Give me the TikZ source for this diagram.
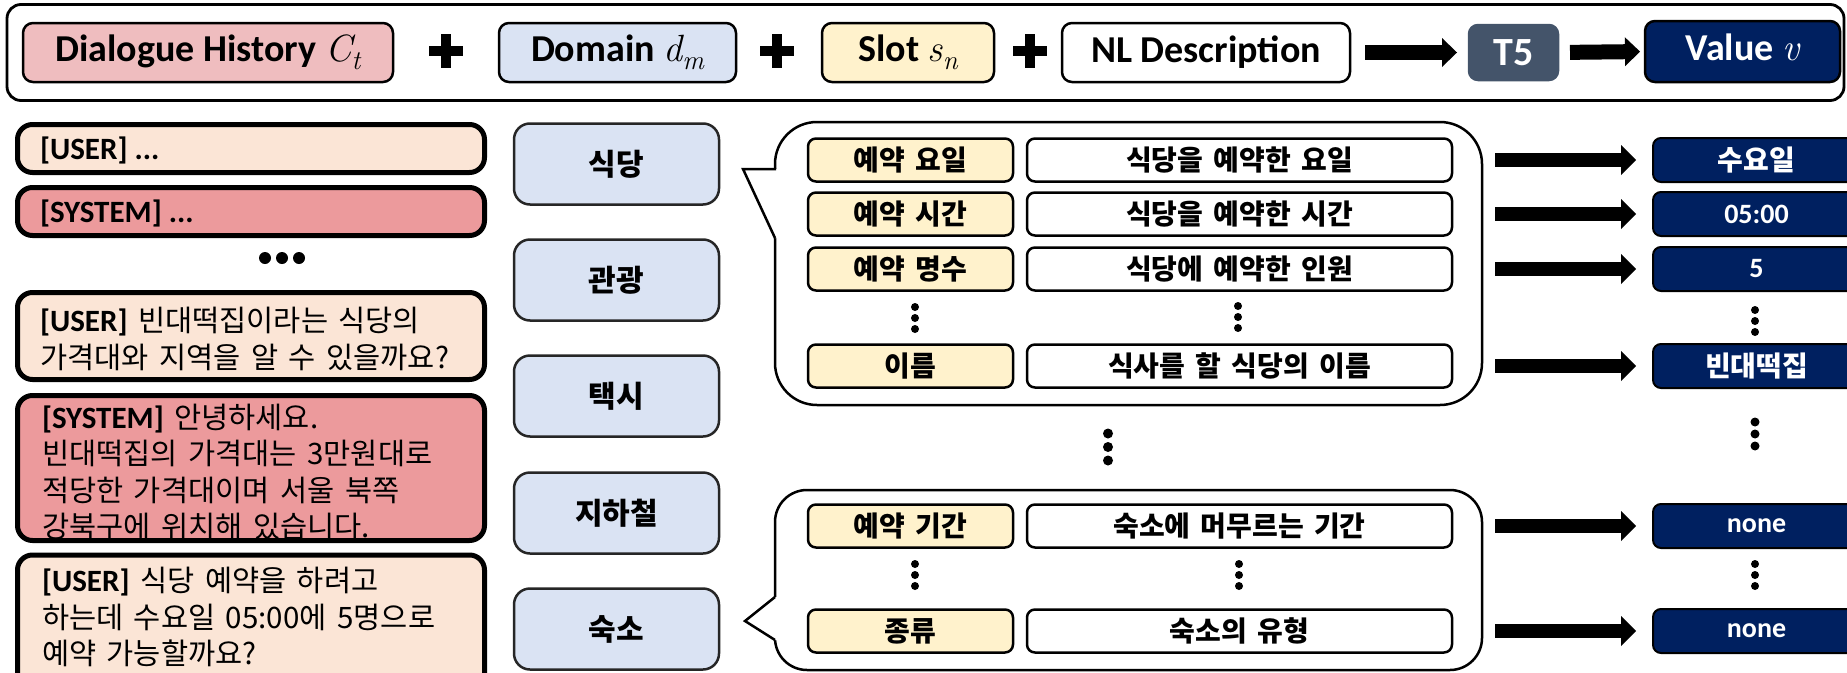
\documentclass[tikz,border=0pt]{standalone}
\usepackage{fontspec}
\setmainfont{Carlito}
\newfontfamily\kr{Noto Sans CJK KR}
\newfontfamily\krw[WordSpace=1.6]{Noto Sans CJK KR}
\newfontfamily\mifont{Latin Modern Roman}
\usetikzlibrary{arrows.meta}
\definecolor{dhpink}{HTML}{EFBDBF}
\definecolor{domblue}{HTML}{DAE3F3}
\definecolor{slotyel}{HTML}{FFF2CC}
\definecolor{tfive}{HTML}{44546A}
\definecolor{navyv}{HTML}{002060}
\definecolor{userc}{HTML}{FBE5D6}
\definecolor{sysc}{HTML}{EC9A9C}
\newcommand\tagb[1]{{\rmfamily\bfseries\fontsize{31}{36}\selectfont #1}}
\newcommand\mvar[2]{{\mifont\mdseries\itshape #1\raisebox{-0.22em}{\fontsize{27}{27}\selectfont #2}}}
\newcommand\plussign[2]{\fill (#1-17,#2-5) rectangle (#1+17,#2+5); \fill (#1-5,#2-17) rectangle (#1+5,#2+17);}
\newcommand\vdotsmark[4]{\fill (#1,#2-#3) circle (#4pt); \fill (#1,#2) circle (#4pt); \fill (#1,#2+#3) circle (#4pt);}
\begin{document}
\begin{tikzpicture}[x=1pt,y=-1pt,
  every node/.style={inner sep=0pt, outer sep=0pt},
  topbox/.style={draw=black, line width=2.5pt, rounded corners=10pt, minimum height=59pt,
     font=\rmfamily\bfseries\fontsize{38}{40}\selectfont},
  lbox/.style={draw=black, line width=5pt, rounded corners=15pt, minimum width=467pt},
  ltext/.style={anchor=west, align=left, font=\krw\fontsize{29.5}{36.5}\selectfont},
  dbox/.style={draw=black!85, line width=2.5pt, fill=domblue, rounded corners=16pt,
     minimum width=205pt, minimum height=81pt, font=\kr\bfseries\fontsize{30}{34}\selectfont},
  bubble/.style={draw=black, line width=2.5pt, fill=white, rounded corners=42pt},
  sbox/.style={draw=black, line width=2.5pt, fill=slotyel, rounded corners=8pt,
     minimum width=205pt, minimum height=43pt, font=\kr\bfseries\fontsize{28}{30}\selectfont},
  descbox/.style={sbox, fill=white, minimum width=425pt},
  vbox/.style={draw=black, line width=2pt, fill=navyv, text=white, rounded corners=8pt,
     minimum width=207pt, minimum height=44pt, font=\kr\bfseries\fontsize{28}{30}\selectfont},
  lat/.style={font=\rmfamily\bfseries\fontsize{28}{30}\selectfont},
  tarrow/.style={line width=15pt, -{Triangle[length=15pt,width=29pt,line width=0pt]}},
  rarrow/.style={line width=14pt, -{Triangle[length=15pt,width=30pt,line width=0pt]},
     shorten <=43pt, shorten >=17pt}
]
\useasboundingbox (0,0) rectangle (1847,672);

% ---------- top bar ----------
\node[draw=black, line width=2.8pt, rounded corners=14pt, minimum width=1837pt, minimum height=96pt] (topframe) at (925.5,52.5) {};
\node[topbox, fill=dhpink, minimum width=370pt] (dh) at (208,52.5) {Dialogue History \mvar{C}{t}};
\node[topbox, fill=domblue, minimum width=237pt] (dom) at (617.5,52.5) {Domain \mvar{d}{m}};
\node[topbox, fill=slotyel, minimum width=172pt] (slot) at (908,52.5) {Slot \mvar{s}{n}};
\node[topbox, fill=white, minimum width=288pt] (nl) at (1206,52.5) {NL Description};
\node[topbox, draw=tfive, fill=tfive, text=white, minimum width=89pt, minimum height=55pt, rounded corners=9pt,
      font=\rmfamily\bfseries\fontsize{40}{44}\selectfont] (t5) at (1513.5,52.5) {T5};
\node[topbox, fill=navyv, text=white, minimum width=195pt, minimum height=61pt] (val) at (1742.5,51.5) {Value \mvar{v}{}};
\plussign{446}{50.5}
\plussign{777}{50.5}
\plussign{1030}{50.5}
\draw[tarrow, shorten <=15pt, shorten >=12pt] (nl.east) -- (t5.west);
\draw[tarrow, shorten <=12pt, shorten >=5pt] (t5.east) -- (val.west);

% ---------- dialogue column ----------
\node[lbox, fill=userc, minimum height=48pt] (u1) at (251,148.5) {};
\node[ltext] (u1t) at (40,150) {\tagb{[USER] ...}};
\node[lbox, fill=sysc, minimum height=48pt] (s1) at (251,211.5) {};
\node[ltext] (s1t) at (40,213) {\tagb{[SYSTEM] ...}};
\fill (265,258) circle (6pt); \fill (282,258) circle (6pt); \fill (299,258) circle (6pt);
\node[lbox, fill=userc, minimum height=87pt] (u2) at (251,336) {};
\node[ltext] (u2t) at (40,339) {\tagb{[USER]} 빈대떡집이라는 식당의\\가격대와 지역을 알 수 있을까요?};
\node[lbox, fill=sysc, minimum height=145pt] (s2) at (251,468) {};
\node[ltext] (s2t) at (42,472) {\tagb{[SYSTEM]} 안녕하세요.\\빈대떡집의 가격대는 3만원대로\\적당한 가격대이며 서울 북쪽\\강북구에 위치해 있습니다.};
\node[lbox, fill=userc, minimum height=140pt] (u3) at (251,625) {};
\node[ltext] (u3t) at (42,617) {\tagb{[USER]} 식당 예약을 하려고\\하는데 수요일 05:00에 5명으로\\예약 가능할까요?};

% ---------- domains ----------
\node[dbox] (d1) at (616.5,164) {식당};
\node[dbox] (d2) at (616.5,280) {관광};
\node[dbox] (d3) at (616.5,396) {택시};
\node[dbox] (d4) at (616.5,513) {지하철};
\node[dbox] (d5) at (616.5,629) {숙소};

% ---------- bubbles ----------
\node[bubble, minimum width=707pt, minimum height=283pt] (bub1) at (1128.5,263.5) {};
\fill[white] (743,169) -- (777.5,169) -- (777.5,238) -- (775,238) -- cycle;
\draw[line width=2.5pt] (776,169) -- (743,169) -- (775,238);
\node[bubble, rounded corners=32pt, minimum width=707pt, minimum height=180pt] (bub2) at (1128.5,580) {};
\fill[white] (775,597) -- (745,621) -- (775,640) -- (777.5,640) -- (777.5,597) -- cycle;
\draw[line width=2.5pt] (775,597) -- (745,621) -- (775,640);

% slots and descriptions
\node[sbox] (sl1) at (910.5,160) {예약 요일};
\node[sbox] (sl2) at (910.5,214) {예약 시간};
\node[sbox] (sl3) at (910.5,269) {예약 명수};
\node[sbox] (sl4) at (910.5,366) {이름};
\node[descbox] (ds1) at (1239.5,160) {식당을 예약한 요일};
\node[descbox] (ds2) at (1239.5,214) {식당을 예약한 시간};
\node[descbox] (ds3) at (1239.5,269) {식당에 예약한 인원};
\node[descbox] (ds4) at (1239.5,366) {식사를 할 식당의 이름};
\vdotsmark{915}{318}{11}{4}
\vdotsmark{1238}{317}{11}{4}

\node[sbox] (sl5) at (910.5,526) {예약 기간};
\node[sbox] (sl6) at (910.5,631) {종류};
\node[descbox] (ds5) at (1239.5,526) {숙소에 머무르는 기간};
\node[descbox] (ds6) at (1239.5,631) {숙소의 유형};
\vdotsmark{915}{575}{11}{4}
\vdotsmark{1239}{575}{11}{4}

\vdotsmark{1108}{447}{13.5}{5}

% ---------- values ----------
\node[vbox] (v1) at (1756.5,160) {수요일};
\node[vbox, lat] (v2) at (1756.5,214) {05:00};
\node[vbox, lat] (v3) at (1756.5,269) {5};
\node[vbox] (v4) at (1756.5,366) {빈대떡집};
\node[vbox, lat] (v5) at (1756.5,526) {none};
\node[vbox, lat] (v6) at (1756.5,631) {none};
\vdotsmark{1755}{321}{11}{4}
\vdotsmark{1755}{434}{12}{4.5}
\vdotsmark{1755}{575}{11}{4}

\draw[rarrow] (ds1.east) -- (v1.west);
\draw[rarrow] (ds2.east) -- (v2.west);
\draw[rarrow] (ds3.east) -- (v3.west);
\draw[rarrow] (ds4.east) -- (v4.west);
\draw[rarrow] (ds5.east) -- (v5.west);
\draw[rarrow] (ds6.east) -- (v6.west);
\end{tikzpicture}
\end{document}
